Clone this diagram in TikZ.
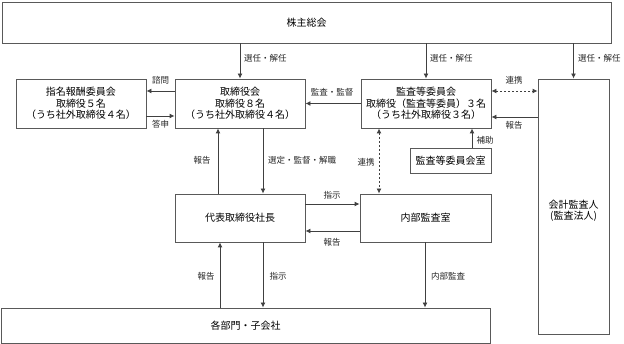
\documentclass[tikz,border=0pt]{standalone}
\usepackage{fontspec}
\newfontfamily\jp{Noto Sans CJK JP}
\usetikzlibrary{arrows.meta}
\begin{document}
\begin{tikzpicture}[x=1pt,y=-1pt, font=\jp\fontsize{10}{11.5}\selectfont,
  box/.style={draw=black!65, line width=0.9pt, inner sep=0pt, align=center},
  lbl/.style={font=\jp\fontsize{8.5}{9}\selectfont, inner sep=0pt, text=black!85},
  arr/.style={draw=black!75, line width=0.9pt, -{Latex[length=5pt,width=5pt]}},
  darr/.style={draw=black!75, line width=0.9pt, dash pattern=on 2pt off 2pt, {Latex[length=5pt,width=5pt]}-{Latex[length=5pt,width=5pt]}}]
\useasboundingbox (0,0) rectangle (624,344);

% boxes
\node[box, minimum width=609pt, minimum height=41pt] (sh) at (306.5,22.5) {株主総会};
\node[box, minimum width=130pt, minimum height=49pt] (nom) at (81,103.5) {指名報酬委員会\\取締役５名\\（うち社外取締役４名）};
\node[box, minimum width=130pt, minimum height=49pt] (bod) at (240,103.5) {取締役会\\取締役８名\\（うち社外取締役４名）};
\node[box, minimum width=130pt, minimum height=49pt] (ac) at (426,103.5) {監査等委員会\\取締役（監査等委員）３名\\（うち社外取締役３名）};
\node[box, minimum width=81pt, minimum height=25pt] (acr) at (450.5,160.5) {監査等委員会室};
\node[box, minimum width=71pt, minimum height=255pt] (aud) at (573.5,206.5) {};
\node[inner sep=0pt, align=center] (audt) at (573.5,211) {会計監査人\\(監査法人)};
\node[box, minimum width=130pt, minimum height=48pt] (ceo) at (240,218) {代表取締役社長};
\node[box, minimum width=131pt, minimum height=48pt] (ia) at (425.5,218) {内部監査室};
\node[box, minimum width=489pt, minimum height=35pt] (dept) at (245.5,325.5) {各部門・子会社};

% from shareholders
\draw[arr] (sh.south -| bod.north) -- (bod.north);
\draw[arr] (sh.south -| ac.north) -- (ac.north);
\draw[arr] (sh.south -| aud.north) -- (aud.north);
\node[lbl, anchor=west] (l1) at (244,58) {選任・解任};
\node[lbl, anchor=west] (l2) at (430,58) {選任・解任};
\node[lbl, anchor=west] (l3) at (578,58) {選任・解任};

% board <-> nomination committee
\draw[arr] (bod.west |- 0,91) -- (nom.east |- 0,91);
\draw[arr] (nom.east |- 0,116) -- (bod.west |- 0,116);
\node[lbl] (l4) at (160.5,80) {諮問};
\node[lbl] (l5) at (160.5,124) {答申};

% audit committee -> board
\draw[arr] (ac.west) -- (bod.east);
\node[lbl] (l6) at (332,92) {監査・監督};

% audit committee <-> auditor
\draw[darr] (ac.east |- 0,91) -- (aud.west |- 0,91);
\draw[arr] (aud.west |- 0,117) -- (ac.east |- 0,117);
\node[lbl] (l7) at (514,80) {連携};
\node[lbl] (l8) at (514,125) {報告};

% audit committee office
\draw[arr] (acr.north -| 472,0) -- (ac.south -| 472,0);
\node[lbl] (l9) at (485,140) {補助};

% audit committee <-> internal audit
\draw[darr] (ac.south -| 379,0) -- (ia.north -| 379,0);
\node[lbl] (l10) at (366,162) {連携};

% board <-> CEO
\draw[arr] (ceo.north -| 218,0) -- (bod.south -| 218,0);
\draw[arr] (bod.south -| 263,0) -- (ceo.north -| 263,0);
\node[lbl] (l11) at (202,160) {報告};
\node[lbl, anchor=west] (l12) at (268,160) {選定・監督・解職};

% CEO <-> internal audit
\draw[arr] (ceo.east |- 0,204) -- (ia.west |- 0,204);
\draw[arr] (ia.west |- 0,231) -- (ceo.east |- 0,231);
\node[lbl] (l13) at (332,195) {指示};
\node[lbl] (l14) at (332,242) {報告};

% CEO/internal audit <-> departments
\draw[arr] (dept.north -| 220,0) -- (ceo.south -| 220,0);
\draw[arr] (ceo.south -| 263,0) -- (dept.north -| 263,0);
\draw[arr] (ia.south -| 425,0) -- (dept.north -| 425,0);
\node[lbl] (l15) at (206,276) {報告};
\node[lbl] (l16) at (278,276) {指示};
\node[lbl] (l17) at (448,276) {内部監査};
\end{tikzpicture}
\end{document}
